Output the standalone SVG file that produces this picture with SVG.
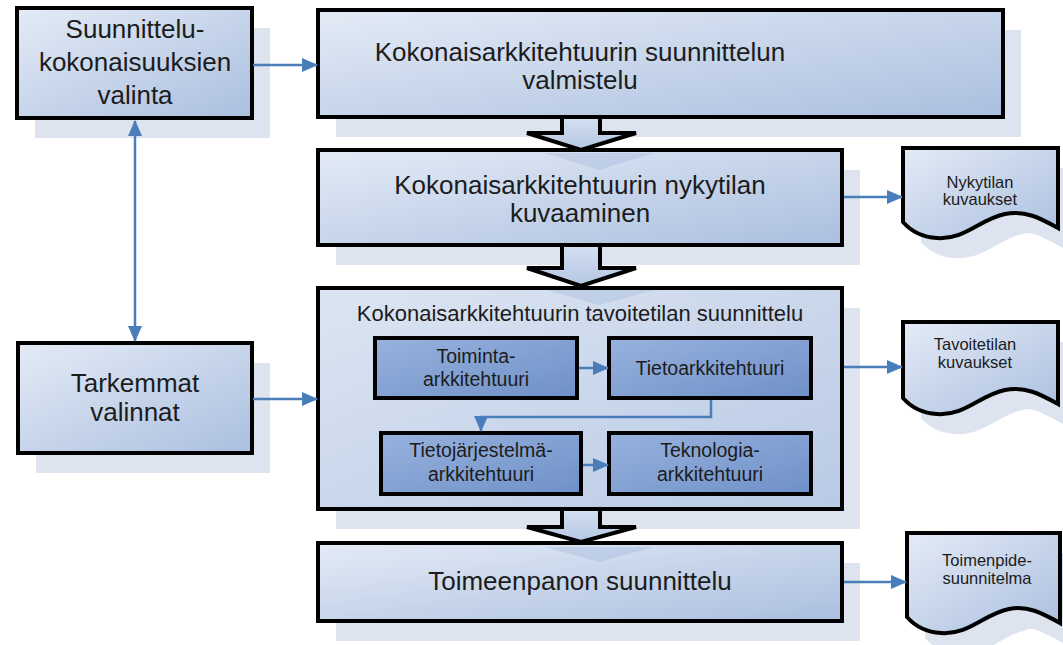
<svg xmlns="http://www.w3.org/2000/svg" width="1063" height="645" viewBox="0 0 1063 645">
<style>
text{font-family:"Liberation Sans",Arial,sans-serif;fill:#1c1c1c;text-anchor:middle}
.shadow{fill:#dde4ef}
.box{fill:url(#gOuter);stroke:#000;stroke-width:4}
.big{fill:url(#gBig);stroke:#000;stroke-width:4}
.inner{fill:url(#gInner);stroke:#000;stroke-width:4}
.doc{fill:url(#gOuter);stroke:#000;stroke-width:4;stroke-linejoin:miter}
.conn{fill:none;stroke:#4a7ebb;stroke-width:2.5;marker-end:url(#ah)}
.bafill{fill:url(#gArrow)}
.baline{fill:none;stroke:#000;stroke-width:4;stroke-linejoin:miter}
.bashadow{fill:#9fb5db;opacity:.35}
.t26{font-size:26px}
.t22{font-size:22px}
.t19{font-size:19.5px}
.t17{font-size:16.5px}
</style>
<defs>
<linearGradient id="gOuter" x1="0" y1="0" x2="1" y2="1">
<stop offset="0" stop-color="#e4ebf6"/>
<stop offset="1" stop-color="#aabfdf"/>
</linearGradient>
<linearGradient id="gBig" x1="0" y1="0" x2="1" y2="1">
<stop offset="0" stop-color="#dce5f2"/>
<stop offset="1" stop-color="#b9cae5"/>
</linearGradient>
<linearGradient id="gInner" x1="0" y1="0" x2="1" y2="1">
<stop offset="0" stop-color="#97b2dd"/>
<stop offset="1" stop-color="#6f90c8"/>
</linearGradient>
<linearGradient id="gArrow" x1="0" y1="0" x2="0" y2="1">
<stop offset="0" stop-color="#d3def0"/>
<stop offset="1" stop-color="#b5c7e4"/>
</linearGradient>
<marker id="ah" markerUnits="userSpaceOnUse" markerWidth="16" markerHeight="14" refX="15" refY="7" orient="auto">
<path d="M0,0 L16,7 L0,14 Z" fill="#4a7ebb"/>
</marker>
<marker id="ahs" markerUnits="userSpaceOnUse" markerWidth="16" markerHeight="14" refX="1" refY="7" orient="auto">
<path d="M16,0 L0,7 L16,14 Z" fill="#4a7ebb"/>
</marker>
</defs>

<g id="shadows">
<rect class="shadow" x="35" y="28" width="235" height="110"/>
<rect class="shadow" x="336" y="30" width="685" height="107"/>
<rect class="shadow" x="336" y="170" width="524" height="95"/>
<rect class="shadow" x="336" y="308" width="524" height="221"/>
<rect class="shadow" x="336" y="563" width="524" height="78"/>
<rect class="shadow" x="36" y="363" width="234" height="110"/>
<path class="shadow" d="M921,168 H1063 V248 C1045,238 1030,230 1023,234 C998,239 983,260 955,258 C938,257 928,250 921,242 Z"/>
<path class="shadow" d="M921,342 H1063 V424 C1045,414 1030,406 1023,410 C998,415 983,436 955,434 C938,433 928,426 921,418 Z"/>
<path class="shadow" d="M925,553 H1063 V643 C1045,633 1030,626 1027,630 C1002,635 987,656 959,654 C942,653 932,646 925,638 Z"/>
</g>

<g id="node-suunnittelukokonaisuudet">
<rect class="box" x="17" y="8" width="235" height="110"/>
<text class="t26" x="135" y="38">Suunnittelu-</text>
<text class="t26" x="135" y="71">kokonaisuuksien</text>
<text class="t26" x="135" y="104">valinta</text>
</g>

<g id="node-valmistelu">
<rect class="box" x="318" y="10" width="685" height="107"/>
<text class="t26" x="580" y="61">Kokonaisarkkitehtuurin suunnittelun</text>
<text class="t26" x="580" y="89">valmistelu</text>
</g>

<g id="node-nykytila">
<rect class="box" x="318" y="150" width="524" height="95"/>
<text class="t26" x="580" y="194">Kokonaisarkkitehtuurin nykytilan</text>
<text class="t26" x="580" y="222">kuvaaminen</text>
</g>

<g id="node-tavoitetila">
<rect class="big" x="318" y="288" width="524" height="221"/>
<text class="t22" x="580" y="321">Kokonaisarkkitehtuurin tavoitetilan suunnittelu</text>
</g>

<g id="node-toiminta">
<rect class="inner" x="375" y="338" width="202" height="60"/>
<text class="t19" x="476" y="363">Toiminta-</text>
<text class="t19" x="476" y="386">arkkitehtuuri</text>
</g>
<g id="node-tieto">
<rect class="inner" x="609" y="338" width="202" height="60"/>
<text class="t19" x="710" y="375">Tietoarkkitehtuuri</text>
</g>
<g id="node-tietojarjestelma">
<rect class="inner" x="381" y="433" width="200" height="61"/>
<text class="t19" x="481" y="457">Tietojärjestelmä-</text>
<text class="t19" x="481" y="481">arkkitehtuuri</text>
</g>
<g id="node-teknologia">
<rect class="inner" x="609" y="433" width="202" height="61"/>
<text class="t19" x="710" y="457">Teknologia-</text>
<text class="t19" x="710" y="481">arkkitehtuuri</text>
</g>

<g id="node-toimeenpano">
<rect class="box" x="318" y="543" width="524" height="78"/>
<text class="t26" x="580" y="590">Toimeenpanon suunnittelu</text>
</g>

<g id="node-tarkemmat">
<rect class="box" x="18" y="343" width="234" height="110"/>
<text class="t26" x="135" y="392">Tarkemmat</text>
<text class="t26" x="135" y="421">valinnat</text>
</g>

<g id="node-nykytilan-kuvaukset">
<path class="doc" d="M903,148 H1058 V228 C1040,218 1025,210 1005,214 C980,219 965,240 937,238 C920,237 910,230 903,222 Z"/>
<text class="t17" x="980" y="188">Nykytilan</text>
<text class="t17" x="980" y="205">kuvaukset</text>
</g>
<g id="node-tavoitetilan-kuvaukset">
<path class="doc" d="M903,322 H1058 V404 C1040,394 1025,386 1005,390 C980,395 965,416 937,414 C920,413 910,406 903,398 Z"/>
<text class="t17" x="975" y="350">Tavoitetilan</text>
<text class="t17" x="975" y="368">kuvaukset</text>
</g>
<g id="node-toimenpidesuunnitelma">
<path class="doc" d="M907,533 H1060 V623 C1042,613 1027,605 1009,609 C984,614 969,635 941,633 C924,632 914,625 907,617 Z"/>
<text class="t17" x="987" y="566">Toimenpide-</text>
<text class="t17" x="987" y="584">suunnitelma</text>
</g>

<g id="block-arrows">
<polygon class="bashadow" points="545,153 654,153 599,170 545,153"/>
<polygon class="bafill" points="562,119 600,119 600,133 636,133 581,150 527,133 562,133"/>
<path class="baline" d="M562,117 V133 H527 L581,150 L636,133 H600 V117"/>
<polygon class="bashadow" points="547,290 654,290 599,305"/>
<polygon class="bafill" points="562,247 600,247 600,268 636,268 581,286 527,268 562,268"/>
<path class="baline" d="M562,245 V268 H527 L581,286 L636,268 H600 V245"/>
<polygon class="bashadow" points="545,547 654,547 599,562"/>
<polygon class="bafill" points="562,511 600,511 600,527 636,527 581,542 527,527 562,527"/>
<path class="baline" d="M562,509 V527 H527 L581,542 L636,527 H600 V509"/>
</g>

<g id="connectors">
<line class="conn" x1="253" y1="65" x2="317" y2="65"/>
<line class="conn" x1="135" y1="121" x2="135" y2="341" marker-start="url(#ahs)"/>
<line class="conn" x1="253" y1="399" x2="317" y2="399"/>
<line class="conn" x1="844" y1="197" x2="902" y2="197"/>
<line class="conn" x1="844" y1="367" x2="902" y2="367"/>
<line class="conn" x1="844" y1="582" x2="906" y2="582"/>
<line class="conn" x1="579" y1="368" x2="608" y2="368"/>
<polyline class="conn" points="711,400 711,417 481,417 481,431"/>
<line class="conn" x1="583" y1="465" x2="608" y2="465"/>
</g>
</svg>
